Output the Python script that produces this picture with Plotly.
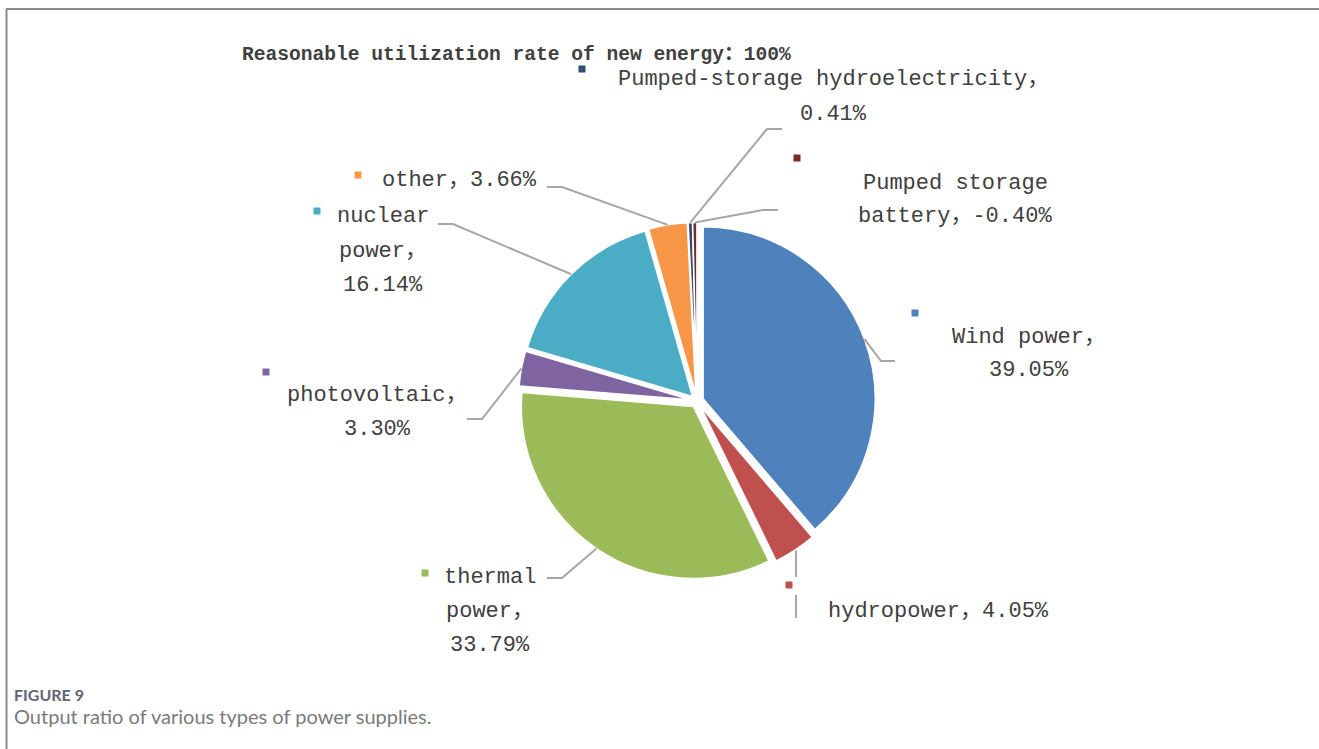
import math
import re
import plotly.graph_objects as go

# ---- data -------------------------------------------------------------
categories = [
    "Wind power",
    "hydropower",
    "thermal power",
    "photovoltaic",
    "nuclear power",
    "other",
    "Pumped-storage hydroelectricity",
    "Pumped storage battery",
]
shares = [39.05, 4.05, 33.79, 3.30, 16.14, 3.66, 0.41, -0.40]
colors = ["#4F81BD", "#C0504D", "#9BBB59", "#8064A2",
          "#4BACC6", "#F79646", "#2C4D75", "#772C2A"]
headline = "Reasonable utilization rate of new energy：100%"
caption_head = "FIGURE 9"
caption_text = "Output ratio of various types of power supplies."

# ---- geometry (pixels) ------------------------------------------------
W, H = 1319, 749
CX, CY = 697, 401          # pie centre
R = 172                    # slice radius
PULL = 0.038               # explosion, fraction of radius
LINE_STEP = 34             # label line spacing
LABEL_FONT = "Liberation Mono, Noto Sans CJK SC, monospace"
TEXT_COLOR = "#404040"
LEADER_COLOR = "#A6A6A6"

# label layout per slice: wrap width (chars), text centre x, first line y,
# legend-key square centre, leader elbow and leader end
label_layout = [
    dict(wrap=11, tx=1029, ty=337, key=(915, 313), elbow=(881, 361), end=(895, 361)),
    dict(wrap=20, tx=938, ty=611, key=(789, 585), elbow=None, end=None),
    dict(wrap=7, tx=490, ty=577, key=(425, 573), elbow=(562, 578), end=(547, 578)),
    dict(wrap=13, tx=377, ty=395, key=(266, 372), elbow=(482, 419), end=(467, 419)),
    dict(wrap=7, tx=383, ty=217, key=(317, 211), elbow=(453, 224), end=(438, 224)),
    dict(wrap=20, tx=459, ty=180, key=(358, 175), elbow=(562, 187), end=(547, 187)),
    dict(wrap=32, tx=833, ty=80, key=(582, 69), elbow=(767, 129), end=(782, 129)),
    dict(wrap=15, tx=955, ty=183, key=(797, 158), elbow=(763, 210), end=(778, 210)),
]


def px(x):
    return x / W


def py(y):
    return 1 - y / H


def wrap_label(text, width):
    tokens = re.findall(r"[^ ，]+，?", text)
    lines, cur = [], ""
    for tok in tokens:
        if not cur:
            cand = tok
        else:
            cand = cur + ("" if cur.endswith("，") else " ") + tok
        if cur and len(cand) > width:
            lines.append(cur)
            cur = tok
        else:
            cur = cand
    if cur:
        lines.append(cur)
    return lines


sizes = [abs(v) for v in shares]
total = sum(sizes)

half = R * (1 + PULL)
fig = go.Figure(
    go.Pie(
        labels=categories,
        values=sizes,
        sort=False,
        direction="clockwise",
        rotation=0,
        pull=[PULL] * len(sizes),
        marker=dict(colors=colors, line=dict(color="white", width=1.5)),
        textinfo="none",
        hoverinfo="label+percent",
        showlegend=False,
        domain=dict(x=[px(CX - half), px(CX + half)],
                    y=[py(CY + half), py(CY - half)]),
    )
)

shapes = []
annotations = []

# leader lines and labels
cum = 0.0
for cat, val, size, col, lay in zip(categories, shares, sizes, colors, label_layout):
    mid = (cum + size / 2) / total * 2 * math.pi
    cum += size
    dx, dy = math.sin(mid), -math.cos(mid)
    sx, sy = CX + half * dx, CY + half * dy

    if lay["elbow"] is not None:
        ex, ey = lay["elbow"]
        fx, fy = lay["end"]
        path = f"M {px(sx)} {py(sy)} L {px(ex)} {py(ey)} L {px(fx)} {py(fy)}"
        shapes.append(dict(type="path", path=path, xref="paper", yref="paper",
                           line=dict(color=LEADER_COLOR, width=2)))
    else:
        # vertical leader interrupted by the legend key
        kx, ky = lay["key"]
        lx = sx + 1
        for y0, y1 in ((sy, ky - 8), (ky + 10, lay["ty"] + 7)):
            shapes.append(dict(type="line", xref="paper", yref="paper",
                               x0=px(lx), y0=py(y0), x1=px(lx), y1=py(y1),
                               line=dict(color=LEADER_COLOR, width=2)))

    # legend key square
    kx, ky = lay["key"]
    shapes.append(dict(type="rect", xref="paper", yref="paper",
                       x0=px(kx - 3.5), x1=px(kx + 3.5),
                       y0=py(ky + 3.5), y1=py(ky - 3.5),
                       fillcolor=col, line=dict(width=0)))

    text = f"{cat}，{val:.2f}%"
    for i, line in enumerate(wrap_label(text, lay["wrap"])):
        annotations.append(dict(
            text=line, xref="paper", yref="paper",
            x=px(lay["tx"]), y=py(lay["ty"] + i * LINE_STEP),
            xanchor="center", yanchor="middle", showarrow=False,
            font=dict(family=LABEL_FONT, size=22, color=TEXT_COLOR),
        ))

# headline
annotations.append(dict(
    text=f"<b>{headline}</b>", xref="paper", yref="paper",
    x=px(240), y=py(55), xanchor="left", yanchor="middle", showarrow=False,
    font=dict(family=LABEL_FONT, size=19.6, color=TEXT_COLOR),
))

# caption
annotations.append(dict(
    text=f"<b>{caption_head}</b>", xref="paper", yref="paper",
    x=px(12), y=py(694), xanchor="left", yanchor="middle", showarrow=False,
    font=dict(family="Lato, Open Sans, sans-serif", size=16, color="#5f6571"),
))
annotations.append(dict(
    text=caption_text, xref="paper", yref="paper",
    x=px(12), y=py(716), xanchor="left", yanchor="middle", showarrow=False,
    font=dict(family="Lato, Open Sans, sans-serif", size=20, color="#7a7a7a"),
))

# frame: top rule and left rule
shapes.append(dict(type="line", xref="paper", yref="paper",
                   x0=px(6), x1=1, y0=py(9), y1=py(9),
                   line=dict(color="#8a8a8a", width=2)))
shapes.append(dict(type="line", xref="paper", yref="paper",
                   x0=px(6.5), x1=px(6.5), y0=py(9), y1=0,
                   line=dict(color="#8a8a8a", width=2)))

fig.update_layout(
    width=W, height=H,
    margin=dict(l=0, r=0, t=0, b=0),
    paper_bgcolor="white",
    plot_bgcolor="white",
    shapes=shapes,
    annotations=annotations,
)

fig.write_html("out.html")
